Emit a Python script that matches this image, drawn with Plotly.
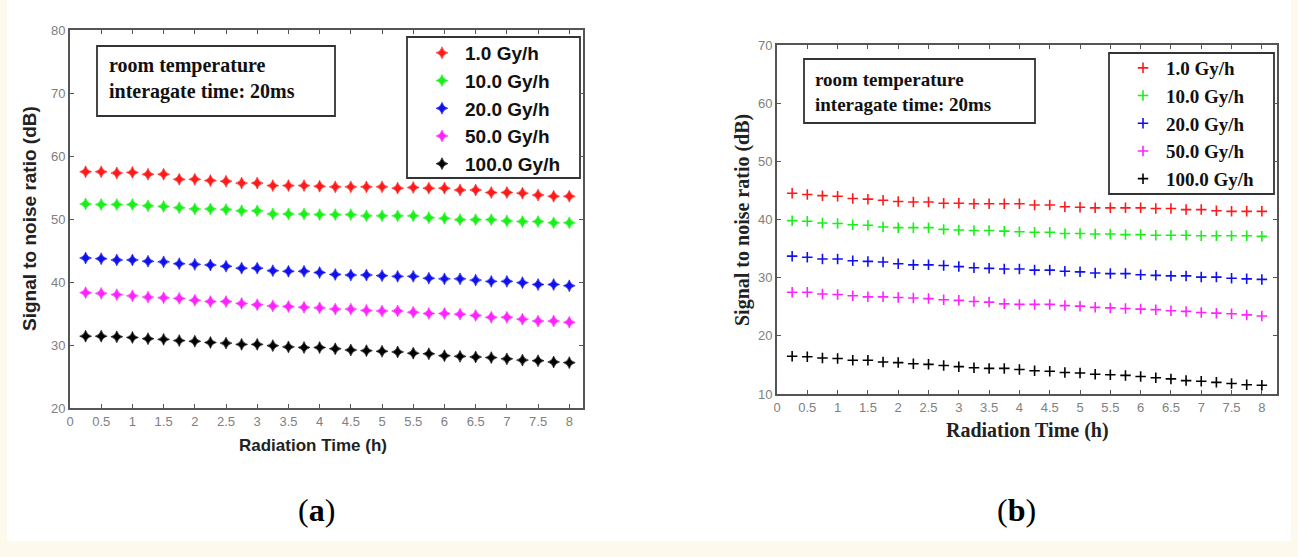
import plotly.graph_objects as go

# ---------------- data ----------------
time_h = [0.25, 0.5, 0.75, 1.0, 1.25, 1.5, 1.75, 2.0, 2.25, 2.5, 2.75, 3.0,
          3.25, 3.5, 3.75, 4.0, 4.25, 4.5, 4.75, 5.0, 5.25, 5.5, 5.75, 6.0,
          6.25, 6.5, 6.75, 7.0, 7.25, 7.5, 7.75, 8.0]

series_names = ["1.0 Gy/h", "10.0 Gy/h", "20.0 Gy/h", "50.0 Gy/h", "100.0 Gy/h"]
series_colors = ["#ff1a1a", "#19f019", "#1010ee", "#ff22ff", "#000000"]

# panel (a)
a_1 = [57.5, 57.5, 57.3, 57.4, 57.1, 57.1, 56.3, 56.3, 56.1, 56.0, 55.7, 55.7,
       55.3, 55.3, 55.3, 55.2, 55.1, 55.1, 55.1, 55.1, 54.9, 55.0, 54.9, 54.9,
       54.6, 54.6, 54.2, 54.2, 54.1, 53.8, 53.6, 53.6]
a_10 = [52.4, 52.3, 52.3, 52.3, 52.1, 52.0, 51.8, 51.6, 51.6, 51.5, 51.3, 51.3,
        50.8, 50.8, 50.8, 50.7, 50.7, 50.7, 50.5, 50.5, 50.5, 50.5, 50.2, 50.1,
        49.9, 49.9, 49.9, 49.7, 49.6, 49.6, 49.4, 49.4]
a_20 = [43.8, 43.7, 43.5, 43.5, 43.3, 43.2, 42.9, 42.8, 42.7, 42.5, 42.2, 42.2,
        41.8, 41.7, 41.7, 41.5, 41.2, 41.1, 41.1, 41.0, 40.9, 40.9, 40.6, 40.5,
        40.5, 40.3, 40.1, 40.1, 39.9, 39.6, 39.6, 39.4]
a_50 = [38.3, 38.2, 38.0, 37.8, 37.6, 37.5, 37.4, 37.1, 36.9, 36.9, 36.6, 36.4,
        36.2, 36.1, 36.0, 35.9, 35.7, 35.7, 35.5, 35.4, 35.4, 35.2, 35.0, 35.0,
        34.9, 34.7, 34.4, 34.4, 34.1, 33.8, 33.8, 33.6]
a_100 = [31.4, 31.4, 31.3, 31.2, 31.0, 30.9, 30.7, 30.6, 30.4, 30.3, 30.1, 30.1,
         29.9, 29.7, 29.6, 29.6, 29.4, 29.2, 29.1, 29.0, 28.9, 28.7, 28.6, 28.3,
         28.2, 28.1, 28.0, 27.8, 27.6, 27.5, 27.3, 27.2]

# panel (b)
b_1 = [44.5, 44.3, 44.1, 44.0, 43.6, 43.5, 43.3, 43.1, 43.0, 43.0, 42.8, 42.8,
       42.7, 42.7, 42.7, 42.7, 42.5, 42.5, 42.2, 42.1, 42.0, 42.0, 42.0, 42.0,
       41.9, 41.9, 41.7, 41.7, 41.5, 41.4, 41.4, 41.4]
b_10 = [39.8, 39.7, 39.4, 39.3, 39.1, 39.0, 38.7, 38.6, 38.6, 38.6, 38.3, 38.2,
        38.1, 38.1, 38.0, 37.9, 37.8, 37.8, 37.6, 37.6, 37.5, 37.5, 37.4, 37.4,
        37.3, 37.3, 37.3, 37.2, 37.2, 37.2, 37.2, 37.1]
b_20 = [33.7, 33.5, 33.2, 33.2, 32.9, 32.8, 32.7, 32.4, 32.2, 32.2, 32.1, 31.9,
        31.7, 31.6, 31.5, 31.5, 31.3, 31.3, 31.1, 31.0, 30.8, 30.7, 30.7, 30.5,
        30.4, 30.3, 30.3, 30.1, 30.1, 29.9, 29.8, 29.7]
b_50 = [27.5, 27.5, 27.2, 27.1, 26.9, 26.7, 26.7, 26.6, 26.5, 26.4, 26.2, 26.1,
        25.9, 25.8, 25.5, 25.4, 25.4, 25.4, 25.2, 25.1, 24.9, 24.8, 24.7, 24.6,
        24.5, 24.3, 24.2, 24.0, 23.9, 23.8, 23.6, 23.4]
b_100 = [16.5, 16.4, 16.2, 16.1, 15.8, 15.8, 15.5, 15.4, 15.2, 15.1, 14.9, 14.7,
         14.5, 14.4, 14.4, 14.2, 14.0, 13.9, 13.7, 13.6, 13.4, 13.3, 13.2, 13.0,
         12.8, 12.6, 12.3, 12.2, 12.0, 11.8, 11.6, 11.5]

x_ticks = [0, 0.5, 1, 1.5, 2, 2.5, 3, 3.5, 4, 4.5, 5, 5.5, 6, 6.5, 7, 7.5, 8]
x_tick_text = ["0", "0.5", "1", "1.5", "2", "2.5", "3", "3.5", "4", "4.5",
               "5", "5.5", "6", "6.5", "7", "7.5", "8"]
a_y_ticks = [20, 30, 40, 50, 60, 70, 80]
b_y_ticks = [10, 20, 30, 40, 50, 60, 70]

note_text = "room temperature<br>interagate time: 20ms"
x_title = "Radiation Time (h)"
y_title = "Signal to noise ratio (dB)"

SANS = "Liberation Sans, Arial, sans-serif"
SERIF = "Liberation Serif, Times New Roman, serif"

W, H = 1298, 557
def px(x):
    return x / W
def py(y):
    return 1 - y / H

fig = go.Figure()

a_series = [a_1, a_10, a_20, a_50, a_100]
b_series = [b_1, b_10, b_20, b_50, b_100]

for i, (name, col, ys) in enumerate(zip(series_names, series_colors, a_series)):
    fig.add_trace(go.Scatter(
        x=time_h, y=ys, mode="markers", name=name, xaxis="x", yaxis="y",
        legend="legend", legendgroup="a%d" % i,
        marker=dict(symbol="star-diamond", size=8.5, color=col,
                    line=dict(width=0.6, color=col)),
    ))

for i, (name, col, ys) in enumerate(zip(series_names, series_colors, b_series)):
    fig.add_trace(go.Scatter(
        x=time_h, y=ys, mode="markers", name=name, xaxis="x2", yaxis="y2",
        legend="legend2", legendgroup="b%d" % i,
        marker=dict(symbol="cross-thin", size=7.5, color=col,
                    line=dict(width=1.6, color=col)),
    ))

def axis_style(fs):
    return dict(
        showline=True, linecolor="#555555", linewidth=1.8, mirror="ticks",
        ticks="inside", ticklen=4, tickwidth=1.3, tickcolor="#555555",
        showgrid=False, zeroline=False, automargin=False,
        tickfont=dict(family=SANS, size=fs, color="#808080"),
    )

fig.update_layout(
    width=W, height=H,
    margin=dict(l=0, r=0, t=0, b=0, autoexpand=False),
    paper_bgcolor="#fdf9ec",
    plot_bgcolor="white",
    showlegend=True,
    xaxis=dict(domain=[px(70), px(583)], range=[0, 8.22], anchor="y",
               tickvals=x_ticks, ticktext=x_tick_text, **axis_style(13)),
    yaxis=dict(domain=[py(408), py(30)], range=[20, 80], anchor="x",
               tickvals=a_y_ticks, **axis_style(13)),
    xaxis2=dict(domain=[px(777), px(1277)], range=[0, 8.25], anchor="y2",
                tickvals=x_ticks, ticktext=x_tick_text, **axis_style(13)),
    yaxis2=dict(domain=[py(394), py(45)], range=[10, 70], anchor="x2",
                tickvals=b_y_ticks, **axis_style(13)),
    legend=dict(x=px(419), y=py(34), xanchor="left", yanchor="top",
                bgcolor="rgba(0,0,0,0)", borderwidth=0,
                font=dict(family=SANS, size=19, color="#111111", weight="bold"),
                tracegroupgap=0, itemwidth=36),
    legend2=dict(x=px(1120), y=py(49), xanchor="left", yanchor="top",
                 bgcolor="rgba(0,0,0,0)", borderwidth=0,
                 font=dict(family=SERIF, size=19, color="#111111", weight="bold"),
                 tracegroupgap=0, itemwidth=36),
)

# white page area
fig.add_shape(type="rect", xref="paper", yref="paper",
              x0=px(7), x1=px(1291), y0=py(541), y1=1,
              fillcolor="white", line=dict(width=0), layer="below")

# legend frames
fig.add_shape(type="rect", xref="paper", yref="paper",
              x0=px(407), x1=px(580), y0=py(178), y1=py(37),
              fillcolor="white", line=dict(color="#333333", width=1.8), layer="below")
fig.add_shape(type="rect", xref="paper", yref="paper",
              x0=px(1109), x1=px(1274), y0=py(194), y1=py(53),
              fillcolor="white", line=dict(color="#333333", width=1.8), layer="below")

# note boxes
fig.add_shape(type="rect", xref="paper", yref="paper",
              x0=px(97), x1=px(335), y0=py(116), y1=py(46),
              fillcolor="white", line=dict(color="#333333", width=1.8))
fig.add_shape(type="rect", xref="paper", yref="paper",
              x0=px(804), x1=px(1035), y0=py(123), y1=py(59),
              fillcolor="white", line=dict(color="#333333", width=1.8))

fig.add_annotation(x=px(107), y=py(78), xref="paper", yref="paper",
                   text="<b>" + note_text + "</b>", showarrow=False,
                   xanchor="left", yanchor="middle", align="left",
                   font=dict(family=SERIF, size=20, color="#111111"))
fig.add_annotation(x=px(813), y=py(92), xref="paper", yref="paper",
                   text="<b>" + note_text + "</b>", showarrow=False,
                   xanchor="left", yanchor="middle", align="left",
                   font=dict(family=SERIF, size=19, color="#111111"))

# axis titles
fig.add_annotation(x=px(313), y=py(445), xref="paper", yref="paper",
                   text="<b>" + x_title + "</b>", showarrow=False,
                   xanchor="center", yanchor="middle",
                   font=dict(family=SANS, size=17, color="#222222"))
fig.add_annotation(x=px(30), y=py(219), xref="paper", yref="paper",
                   text="<b>" + y_title + "</b>", showarrow=False, textangle=-90,
                   xanchor="center", yanchor="middle",
                   font=dict(family=SANS, size=19, color="#222222"))
fig.add_annotation(x=px(1027), y=py(430), xref="paper", yref="paper",
                   text="<b>" + x_title + "</b>", showarrow=False,
                   xanchor="center", yanchor="middle",
                   font=dict(family=SERIF, size=20, color="#222222"))
fig.add_annotation(x=px(742), y=py(220), xref="paper", yref="paper",
                   text="<b>" + y_title + "</b>", showarrow=False, textangle=-90,
                   xanchor="center", yanchor="middle",
                   font=dict(family=SERIF, size=20, color="#222222"))

# panel labels
fig.add_annotation(x=px(316), y=py(510), xref="paper", yref="paper",
                   text="(<b>a</b>)", showarrow=False,
                   xanchor="center", yanchor="middle",
                   font=dict(family=SERIF, size=32, color="#000000"))
fig.add_annotation(x=px(1016), y=py(510), xref="paper", yref="paper",
                   text="(<b>b</b>)", showarrow=False,
                   xanchor="center", yanchor="middle",
                   font=dict(family=SERIF, size=32, color="#000000"))

fig.write_html("out.html")
